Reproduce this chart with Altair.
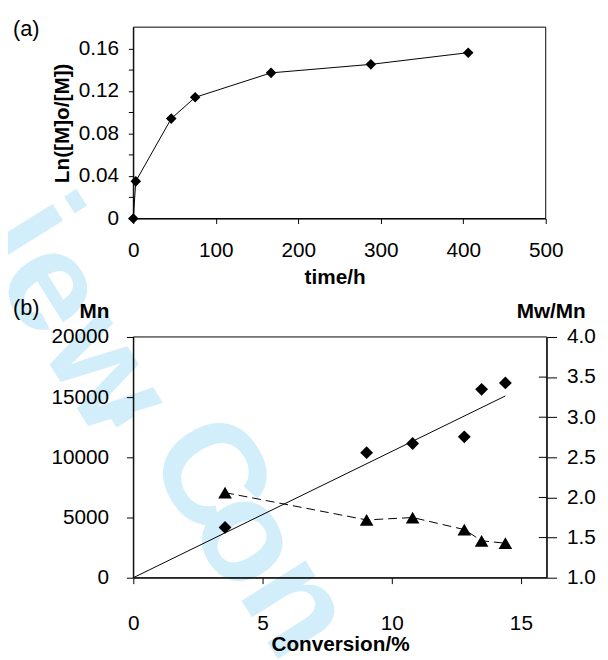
import altair as alt
import pandas as pd

# ---------------- data ----------------
time_h = [0, 3, 46, 75, 167, 288, 406]
ln_ratio = [0.0, 0.035, 0.094, 0.114, 0.137, 0.145, 0.156]

conversion = [3.55, 9.03, 10.81, 12.81, 13.48, 14.40]
mn_values = [4180, 10390, 11150, 11700, 15650, 16180]
pdi_values = [2.06, 1.72, 1.75, 1.60, 1.46, 1.43]

trend_conversion = [0, 14.4]
trend_mn = [0, 15100]

a_y_ticks = [0, 0.02, 0.04, 0.06, 0.08, 0.10, 0.12, 0.14, 0.16]
a_x_ticks = [0, 100, 200, 300, 400, 500]
b_x_ticks = [0, 5, 10, 15]
b_left_ticks = [0, 5000, 10000, 15000, 20000]
b_right_ticks = [1.0, 1.5, 2.0, 2.5, 3.0, 3.5, 4.0]
b_inner_ticks = [1.5, 2.0, 2.5, 3.0, 3.5]

a_domain_x = [0, 500]
a_domain_y = [0, 0.18]
b_domain_x = [0, 16]
b_domain_mn = [0, 20000]
b_domain_pdi = [1, 4]

# background watermark letters ("...view. Con...")
wm_letters = ["i", "e", "w", ".", "C", "o", "n"]
wm_px = [23, 45, 99, 142, 203, 242, 292]
wm_py = [220, 279, 365, 389, 469, 533, 602]

FONT = "Liberation Sans"
TOTAL_W = 600
TOTAL_H = 652

# pixel placement of the two plot areas inside the canvas
A_LEFT, A_RIGHT, A_TOP, A_BOTTOM = 127, 545, 15, 209
B_LEFT, B_RIGHT, B_TOP, B_BOTTOM = 127, 546, 329, 573

LBL = 21
TTL = 21

# ---------------- scales ----------------
sx_a = alt.Scale(domain=a_domain_x, range=[A_LEFT, A_RIGHT], nice=False, zero=False)
sy_a = alt.Scale(domain=a_domain_y, range=[A_BOTTOM, A_TOP], nice=False, zero=False)
sx_b = alt.Scale(domain=b_domain_x, range=[B_LEFT, B_RIGHT], nice=False, zero=False)
sy_l = alt.Scale(domain=b_domain_mn, range=[B_BOTTOM, B_TOP], nice=False, zero=False)
sy_r = alt.Scale(domain=b_domain_pdi, range=[B_BOTTOM, B_TOP], nice=False, zero=False)

# ---------------- axes ----------------
ax_a_x = alt.Axis(values=a_x_ticks, title="time/h", orient="bottom",
                  offset=A_BOTTOM - TOTAL_H, tickSize=5, labelPadding=16,
                  titlePadding=7, titleX=331, zindex=1)
ax_a_y = alt.Axis(values=a_y_ticks, orient="left", offset=-A_LEFT,
                  labelExpr="(round(datum.value*100) % 4 == 0) ? (datum.value == 0 ? '0' : format(datum.value, '.2f')) : ''",
                  title="Ln([M]o/[M])", tickSize=5, labelPadding=10, titlePadding=6,
                  zindex=1)
ax_b_x = alt.Axis(values=b_x_ticks, title="Conversion/%", orient="bottom",
                  offset=B_BOTTOM - TOTAL_H, tickSize=6, labelPadding=30,
                  titlePadding=0, zindex=1)
ax_b_l = alt.Axis(values=b_left_ticks, format="d", title="Mn", orient="left",
                  offset=-B_LEFT, titleAngle=0, titleX=-40, titleY=303,
                  titleAlign="center", titleBaseline="middle",
                  tickSize=7, labelPadding=18, zindex=1)
ax_b_r = alt.Axis(values=b_right_ticks, format=".1f", title="Mw/Mn", orient="right",
                  offset=B_RIGHT - TOTAL_W, titleAngle=0, titleX=4, titleY=303,
                  titleAlign="center", titleBaseline="middle",
                  tickSize=10, labelPadding=10, zindex=1)

# ---------------- watermark & panel labels ----------------
df_wm = pd.DataFrame({"t": wm_letters, "px": wm_px, "py": wm_py})
wm = alt.Chart(df_wm).mark_text(
    angle=58, fontSize=145, fontWeight="bold", font=FONT, color="#d2eefa",
    align="center", baseline="middle"
).encode(
    x=alt.X("px:Q", scale=None), y=alt.Y("py:Q", scale=None), text="t:N"
)

lab_a = alt.Chart(pd.DataFrame({"t": ["(a)"]})).mark_text(
    align="left", baseline="middle", fontSize=22, font=FONT, color="black"
).encode(x=alt.value(5), y=alt.value(17), text="t:N")
lab_b = alt.Chart(pd.DataFrame({"t": ["(b)"]})).mark_text(
    align="left", baseline="middle", fontSize=22, font=FONT, color="black"
).encode(x=alt.value(5), y=alt.value(300), text="t:N")

# ---------------- panel (a) ----------------
df_a = pd.DataFrame({"time": time_h, "ln": ln_ratio})
df_fa = pd.DataFrame({"time": [a_domain_x[0]], "time2": [a_domain_x[1]],
                      "ln": [a_domain_y[0]], "ln2": [a_domain_y[1]]})

xa = alt.X("time:Q", scale=sx_a, axis=ax_a_x)
ya = alt.Y("ln:Q", scale=sy_a, axis=ax_a_y)

frame_a = alt.Chart(df_fa).mark_rect(fill="transparent", stroke="black", strokeWidth=1).encode(
    x=xa, x2="time2:Q", y=ya, y2="ln2:Q")
line_a = alt.Chart(df_a).mark_line(color="black", strokeWidth=1).encode(x=xa, y=ya)
pts_a = alt.Chart(df_a).mark_point(shape="diamond", filled=True, color="black",
                                   size=115, opacity=1).encode(x=xa, y=ya)
layer_a = alt.layer(frame_a, line_a, pts_a)

# ---------------- panel (b) ----------------
df_b = pd.DataFrame({"conv": conversion, "mn": mn_values, "pdi": pdi_values})
df_t = pd.DataFrame({"conv": trend_conversion, "mn": trend_mn})
df_fb = pd.DataFrame({"conv": [b_domain_x[0]], "conv2": [b_domain_x[1]],
                      "mn": [b_domain_mn[0]], "mn2": [b_domain_mn[1]]})
df_it = pd.DataFrame({"pdi": b_inner_ticks})

xb = alt.X("conv:Q", scale=sx_b, axis=ax_b_x)
xb2 = alt.X("conv:Q", scale=sx_b, axis=None)
yl = alt.Y("mn:Q", scale=sy_l, axis=ax_b_l)
yr = alt.Y("pdi:Q", scale=sy_r, axis=ax_b_r)

frame_b = alt.Chart(df_fb).mark_rect(fill="transparent", stroke="black", strokeWidth=1).encode(
    x=xb, x2="conv2:Q", y=yl, y2="mn2:Q")
trend = alt.Chart(df_t).mark_line(color="black", strokeWidth=1).encode(x=xb, y=yl)
diam = alt.Chart(df_b).mark_point(shape="diamond", filled=True, color="black",
                                  size=170, opacity=1).encode(x=xb, y=yl)
layer_bl = alt.layer(frame_b, trend, diam)

dash = alt.Chart(df_b).mark_line(color="black", strokeWidth=1, strokeDash=[9, 5]).encode(x=xb2, y=yr)
tri = alt.Chart(df_b).mark_point(shape="triangle-up", filled=True, color="black",
                                 size=190, opacity=1).encode(x=xb2, y=yr)
inner = alt.Chart(df_it).mark_rule(color="black", strokeWidth=1).encode(
    y=yr, x=alt.value(B_RIGHT - 8), x2=alt.value(B_RIGHT))
layer_br = alt.layer(dash, tri, inner)

chart = alt.layer(wm, lab_a, lab_b, layer_a, layer_bl, layer_br).resolve_scale(
    x="independent", y="independent"
).properties(
    width=TOTAL_W, height=TOTAL_H, padding=0, background="white",
    autosize=alt.AutoSizeParams(type="none")
).configure_view(stroke=None).configure_axis(
    domainColor="black", tickColor="black", labelColor="black", titleColor="black",
    labelFont=FONT, titleFont=FONT, labelFontSize=LBL, titleFontSize=TTL,
    titleFontWeight="bold", grid=False, domainWidth=1, tickWidth=1,
    labelFlush=False, labelOverlap=False
)

chart.save("out.html", embed_options={"renderer": "svg", "actions": False})
